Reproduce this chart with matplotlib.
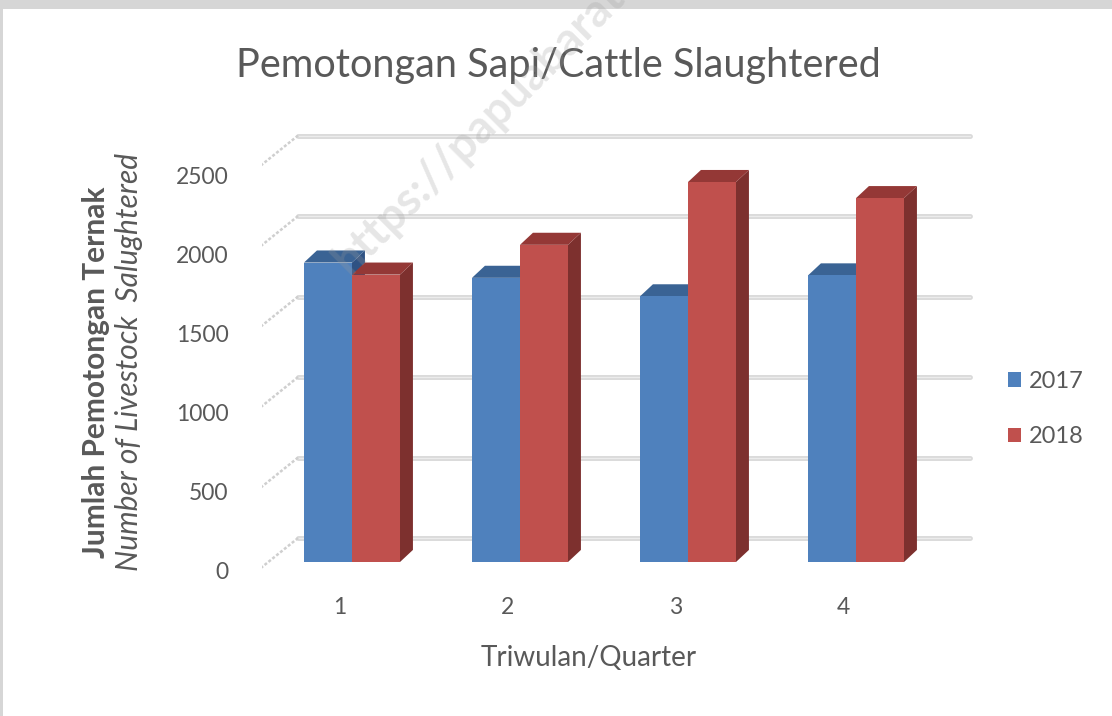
import matplotlib.pyplot as plt
from matplotlib.patches import Patch, Rectangle
import numpy as np

plt.rcParams['font.family'] = ['Lato', 'DejaVu Sans']

# data
quarters = ['1', '2', '3', '4']
series = ['2017', '2018']
y2017 = [1860, 1765, 1650, 1780]
y2018 = [1785, 1970, 2360, 2260]
grid_vals = [0, 500, 1000, 1500, 2000, 2500]

front_cols = ['#4F81BD', '#C0504D']
top_cols = ['#3A6394', '#943836']
side_cols = ['#2F5283', '#7D302E']
txt = '#595959'

fig = plt.figure(figsize=(11.12, 7.16), dpi=100, facecolor='#d6d6d6')
fig.patches.append(Rectangle((3 / 1112, 0), 1, (716 - 9) / 716, transform=fig.transFigure,
                             facecolor='white', edgecolor='none', zorder=-10))

# plot area (pixel box 262..990 x 120..596)
ax = fig.add_axes([262 / 1112, (716 - 596) / 716, (990 - 262) / 1112, (596 - 120) / 716])
ax.set_xlim((262 - 352) / 168, (990 - 352) / 168)
ax.set_ylim(-(596 - 562) / 0.161, (562 - 120) / 0.161)
ax.patch.set_alpha(0)
for s in ax.spines.values():
    s.set_visible(False)

# fake 3d geometry
w = 48 / 168          # bar width
dx, dy = 0.077, 75    # bar depth offset
wall_dy = 149         # back wall shift
wall_x0, wall_x1 = -0.321, 3.679
side_dx, side_dy = -0.25, -210

# back wall gridlines + left wall diagonals
for v in grid_vals:
    ax.plot([wall_x0, wall_x1], [v + wall_dy] * 2, color='#d9d9d9', lw=3.5,
            solid_capstyle='round', zorder=1)
    ax.plot([wall_x0, wall_x1], [v + wall_dy] * 2, color='#ececec', lw=1, zorder=1)
    ax.plot([wall_x0, wall_x0 + side_dx], [v + wall_dy, v + wall_dy + side_dy],
            color='#cfcfcf', lw=1.8, ls=(0, (1.2, 0.8)), zorder=1)

x = np.arange(len(quarters))
for k, vals in enumerate([y2017, y2018]):
    left = x - w + k * w
    for xl, v in zip(left, vals):
        xr = xl + w
        z = 3 + k * 3
        ax.fill([xr, xr + dx, xr + dx, xr], [0, dy, v + dy, v], color=side_cols[k], lw=0, zorder=z)
        ax.fill([xl, xl + dx, xr + dx, xr], [v, v + dy, v + dy, v], color=top_cols[k], lw=0, zorder=z)
    ax.bar(left, vals, width=w, align='edge', color=front_cols[k], lw=0, zorder=z + 1)

# ticks
ax.set_xticks(x - 0.075, quarters)
ax.set_yticks([v * 0.981 - 50 for v in grid_vals], [str(v) for v in grid_vals])
ax.tick_params(length=0, labelsize=16.5, labelcolor=txt)
ax.tick_params(axis='y', pad=24)
ax.tick_params(axis='x', pad=1)

fig.text(558 / 1112, 1 - 65 / 716, 'Pemotongan Sapi/Cattle Slaughtered', ha='center', va='center',
         fontsize=28.5, color=txt)
fig.text(589 / 1112, 1 - 658 / 716, 'Triwulan/Quarter', ha='center', va='center',
         fontsize=20, color=txt)
fig.text(96 / 1112, 1 - 372 / 716, 'Jumlah Pemotongan Ternak', rotation=90, ha='center',
         va='center', fontsize=21.5, fontweight='bold', color=txt)
fig.text(129 / 1112, 1 - 362 / 716, 'Number of Livestock  Salughtered', rotation=90,
         ha='center', va='center', fontsize=21.5, style='italic', color=txt)

handles = [Patch(facecolor=c, edgecolor='none') for c in front_cols]
fig.legend(handles, series, loc='center left', bbox_to_anchor=(996 / 1112, 1 - 409 / 716),
           frameon=False, fontsize=17, labelcolor=txt, handlelength=0.55, handleheight=0.55,
           handletextpad=0.35, labelspacing=1.45, borderpad=0)

# watermark
fig.text(326 / 1112, 1 - 282 / 716, 'https://papuabarat', rotation=45,
         ha='left', va='bottom', fontsize=33, fontweight='bold', color='#9a9a9a', alpha=0.25,
         zorder=20)

fig.savefig('out.png', dpi=100, facecolor=fig.get_facecolor())
